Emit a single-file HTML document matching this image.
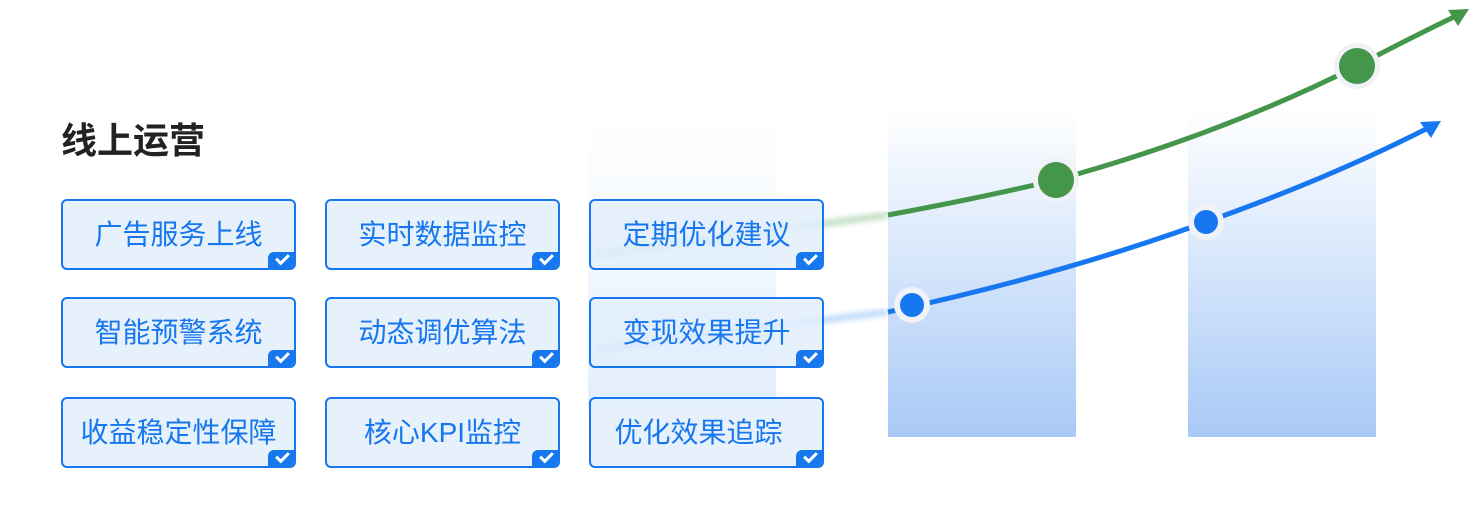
<!DOCTYPE html>
<html><head><meta charset="utf-8"><style>
html,body{margin:0;padding:0;width:1479px;height:514px;overflow:hidden;background:#fff;font-family:"Liberation Sans","Noto Sans CJK SC",sans-serif;}
.t{position:absolute;left:61px;top:119px;font-size:36px;font-weight:bold;color:#222;line-height:44px;}
.b{position:absolute;width:231px;height:67px;border:2px solid #1677ee;border-radius:6px;background:rgba(226,238,252,0.85);color:#1677ee;font-size:28px;line-height:67px;text-align:center;box-sizing:content-box;overflow:hidden;white-space:nowrap}
.b i{position:absolute;right:0;bottom:0;width:26px;height:16px;background:#1677ee;border-top-left-radius:6px}
.b i:after{content:"";position:absolute;left:8px;top:2px;width:10px;height:5px;border-left:3px solid #fff;border-bottom:3px solid #fff;transform:rotate(-45deg)}
svg{position:absolute;left:0;top:0}
</style></head><body>
<svg width="1479" height="514">
<defs>
<linearGradient id="g" x1="0" y1="0" x2="0" y2="1"><stop offset="0" stop-color="#fff"/><stop offset="1" stop-color="#a8c9f6"/></linearGradient>
<linearGradient id="g2" x1="0" y1="0" x2="0" y2="1"><stop offset="0" stop-color="#fff"/><stop offset="1" stop-color="#e3eefc"/></linearGradient>
<filter id="bl"><feGaussianBlur stdDeviation="3"/></filter>
</defs>
<rect x="588" y="120" width="188" height="290" fill="url(#g2)"/>
<rect x="888" y="110" width="188" height="327" fill="url(#g)"/>
<rect x="1188" y="110" width="188" height="327" fill="url(#g)"/>
<path d="M595 255 Q740 235 888 215" stroke="#43964a" stroke-width="6" fill="none" opacity="0.35" filter="url(#bl)"/>
<path d="M595 350 Q740 330 888 312" stroke="#1677f0" stroke-width="6" fill="none" opacity="0.3" filter="url(#bl)"/>
<path d="M888 215 Q980 198 1056 180 Q1220 135 1357 66 Q1410 38 1458 15" stroke="#43964a" stroke-width="5" fill="none"/>
<polygon points="1469,9 1448,10 1458,26" fill="#43964a"/>
<path d="M888 312 Q1060 275 1206 222 Q1330 178 1430 127" stroke="#1677f0" stroke-width="5" fill="none"/>
<polygon points="1441,121 1420,122 1431,138" fill="#1677f0"/>
<circle cx="1056" cy="180" r="23" fill="#f1f2f6"/><circle cx="1056" cy="180" r="18" fill="#43964a"/>
<circle cx="1357" cy="66" r="23" fill="#f1f2f6"/><circle cx="1357" cy="66" r="18" fill="#43964a"/>
<circle cx="912" cy="305" r="18" fill="#f1f2f6"/><circle cx="912" cy="305" r="12" fill="#1677f0"/>
<circle cx="1206" cy="222" r="18" fill="#f1f2f6"/><circle cx="1206" cy="222" r="12" fill="#1677f0"/>
</svg>
<div class="t">线上运营</div>
<div class="b" style="left:61px;top:199px">广告服务上线<i></i></div>
<div class="b" style="left:325px;top:199px">实时数据监控<i></i></div>
<div class="b" style="left:589px;top:199px">定期优化建议<i></i></div>
<div class="b" style="left:61px;top:297px">智能预警系统<i></i></div>
<div class="b" style="left:325px;top:297px">动态调优算法<i></i></div>
<div class="b" style="left:589px;top:297px">变现效果提升<i></i></div>
<div class="b" style="left:61px;top:397px">收益稳定性保障<i></i></div>
<div class="b" style="left:325px;top:397px">核心KPI监控<i></i></div>
<div class="b" style="left:589px;top:397px;text-indent:-16px">优化效果追踪<i></i></div>
</body></html>
